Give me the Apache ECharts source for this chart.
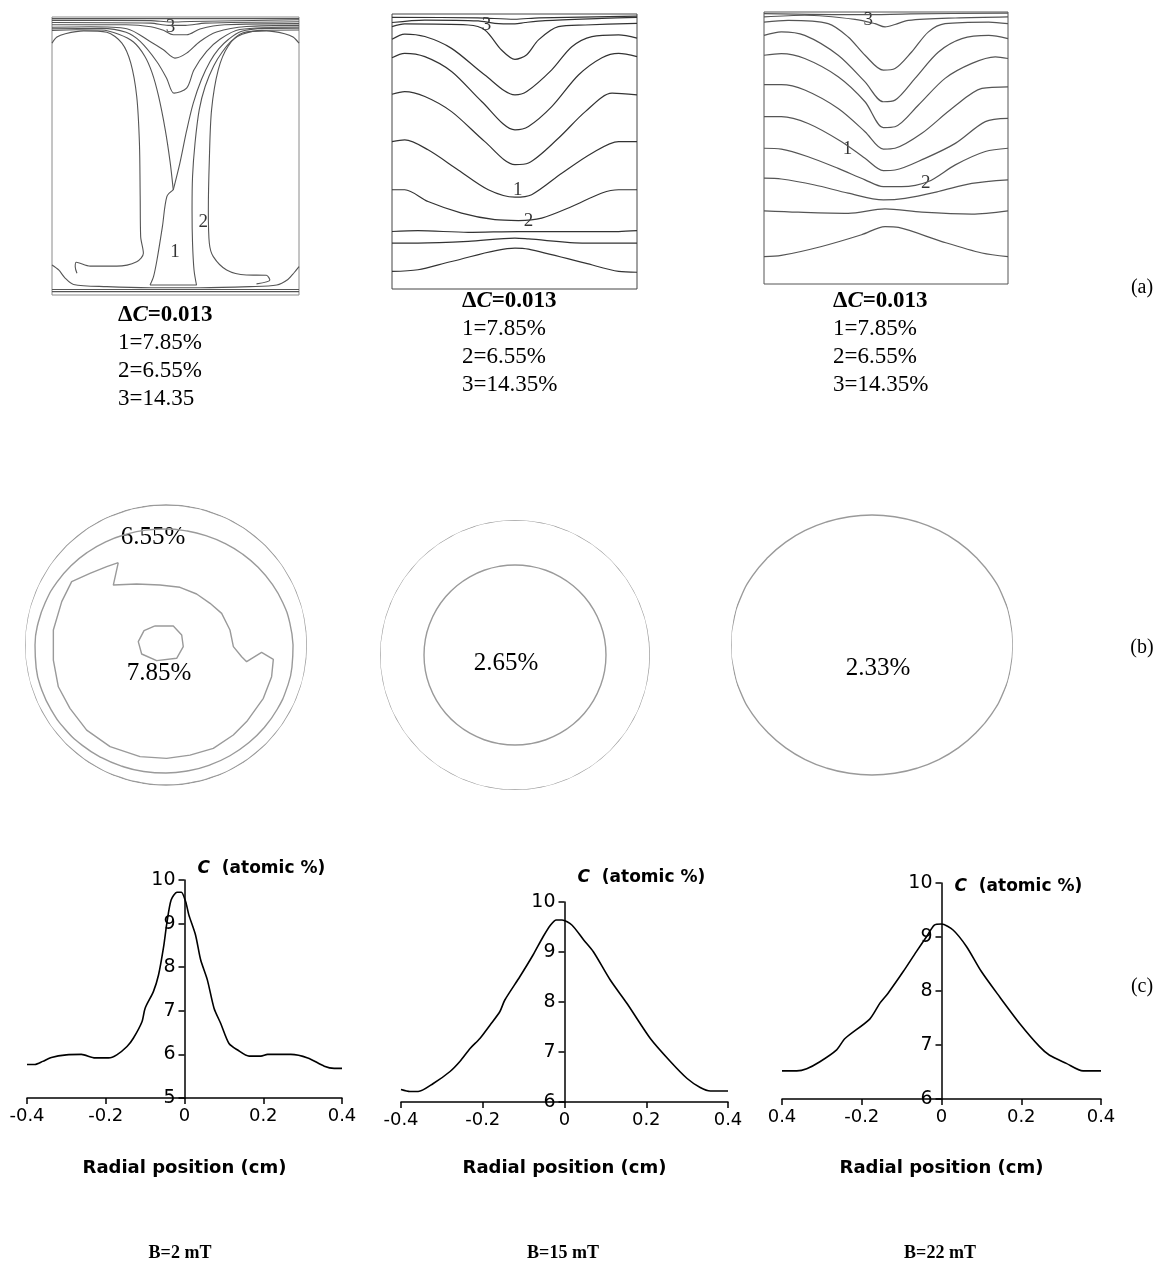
<!DOCTYPE html>
<html><head><meta charset="utf-8">
<script src="https://cdn.jsdelivr.net/npm/echarts@6/dist/echarts.min.js"></script>
<style>html,body{margin:0;padding:0;background:#fff}#c{width:1161px;height:1278px}</style>
</head><body><div id="c"></div>
<script>
// ---------- Row (a): axial-section contour lines (x = % of width, y = % of height from bottom)
const a1Lines = [
  [[0,99.4],[100,99.4]],
  [[0,98.8],[40,98.7],[48,98.2],[56,98.4],[100,99.0]],
  [[0,98.0],[40,97.8],[47,97.0],[54,97.0],[62,97.8],[100,98.3]],
  [[0,97.2],[30,97.2],[40,96.5],[45.1,95.2],[49.1,93.6],[54.5,93.6],[59.9,95.7],[70,97.2],[100,97.6]],
  [[0,96.3],[15.5,96.5],[30.3,95.8],[39.7,91.2],[45.1,88.2],[49.8,85.2],[54.5,87.0],[59.9,91.2],[66.6,94.6],[78.7,96.6],[100,97.0]],
  [[0,95.8],[20,95.9],[30,94.5],[35.7,91.2],[42.4,84.0],[46.4,78.0],[49.4,72.6],[54.5,74.4],[57.5,81.0],[62.6,87.6],[68,92.0],[76,95.5],[100,96.4]],
  [[49.1,37.8],[47.8,48.0],[45.8,59.7],[43.1,71.7],[40.5,80],[37.5,86],[33,91],[27,93.8],[20,95.3],[10,95.4],[0,95.2]],
  [[49.1,37.8],[51.8,47.5],[54.5,59.1],[57.2,69.0],[60.5,77.5],[64,84],[67.5,88.5],[71.5,92],[76.5,94.8],[86,95.9],[100,96.0]],
  [[0,90.6],[2.0,92.8],[5.4,94.0],[12.8,95.0],[22.2,94.5],[28.3,90.6],[31.9,83.4],[34.3,71.4],[35.4,54.6],[35.7,35.5],[35.9,21.0],[37.0,15.0],[34.3,12.0],[26.2,10.4],[15.5,10.4],[9.8,11.8],[9.4,10.2],[10.1,7.8]],
  [[100,90.6],[97.6,92.8],[94.2,94.0],[86.8,95.0],[77.4,94.3],[71.3,89.5],[67.3,81.0],[64.6,66.6],[63.7,48.6],[63.3,30.6],[63.7,18.6],[65.3,13.8],[70.7,9.0],[78.7,7.2],[86.8,7.1],[88.2,5.4],[82.8,4.0]],
  [[39.7,3.6],[41.1,6.6],[42.5,12.6],[44.7,24.6],[46.5,35.4],[49.1,37.8]],
  [[39.7,3.6],[58.5,3.6],[57.5,9.0],[56.9,18.6],[56.7,30.6],[56.9,42.6],[57.9,54.6],[59.6,66.6],[62.0,75],[65.5,82.5],[69.0,87.5],[72.8,91.5],[77,93.8],[85,95.2],[100,95.3]],
  [[0,10.8],[2.7,9.0],[5.4,6.0],[8.7,3.8],[22.2,3.0],[39.7,2.6],[60,2.6],[80,3.0],[91,3.6],[95.5,5.6],[98,8],[100,10.2]],
  [[0,2.0],[100,2.0]],
  [[0,1.2],[100,1.2]]
];
const a1Labels = [[48.0,96.4,'3'],[49.8,15.6,'1'],[61.2,26.4,'2']];

const a2Lines = [
  [[0,98.8],[35,98.6],[50,98.1],[60,98.6],[100,99.2]],
  [[0,96.9],[13.4,97.8],[35.2,97.5],[42.0,96.6],[50.2,96.4],[54.3,96.9],[62.5,97.6],[85.7,98.4],[100,98.8]],
  [[0,95.4],[5.2,96.4],[31.1,96.0],[37.9,94.2],[44.7,86.9],[50.2,83.5],[55.0,85.2],[59.8,90.6],[67.9,95.4],[78.9,96.0],[100,96.6]],
  [[0,90.8],[5.2,92.7],[13.4,91.8],[24.3,87.5],[37.9,77.8],[50.2,70.6],[55.0,71.8],[65.2,79.7],[73.4,88.1],[81.6,91.8],[92.5,92.4],[100,91.2]],
  [[0,84.1],[5.2,85.7],[13.4,84.5],[24.3,79.1],[36.6,68.2],[50.2,57.9],[55.7,59.1],[65.2,66.3],[76.1,77.8],[85.7,84.1],[92.5,85.7],[100,84.5]],
  [[0,70.8],[5.2,71.8],[13.4,70.0],[24.3,64.5],[37.9,53.6],[50.2,45.2],[55.7,45.8],[67.9,54.8],[78.9,64.5],[89.8,71.2],[100,70.6]],
  [[0,53.6],[5.2,54.2],[14.7,50.6],[27.0,43.3],[39.3,36.1],[50.2,33.4],[57.0,34.3],[69.3,42.1],[81.6,49.4],[92.5,53.6],[100,53.6]],
  [[0,36.1],[5.2,36.1],[14.7,31.8],[28.4,27.6],[42.0,25.2],[51.6,24.9],[61.1,25.8],[73.4,30.0],[85.7,34.9],[92.5,36.1],[100,36.1]],
  [[0,20.9],[10.6,21.2],[31.1,20.6],[51.6,20.9],[72.0,20.9],[92.5,20.9],[100,21.2]],
  [[0,16.7],[10.6,16.7],[31.1,17.3],[50.2,18.5],[55.7,18.2],[78.9,16.7],[100,16.7]],
  [[0,6.4],[10.6,7.0],[24.3,10.0],[50.2,14.9],[55.7,14.5],[78.9,9.4],[92.5,6.4],[100,6.1]]
];
const a2Labels = [[38.6,96.0,'3'],[51.3,36.1,'1'],[55.7,24.6,'2']];

const a3Lines = [
  [[0,99.4],[40,99.0],[60,99.3],[100,99.6]],
  [[0,98.2],[16.7,98.8],[37.3,97.3],[45.5,95.7],[49.6,94.5],[53.7,95.4],[59.2,96.9],[78.4,97.8],[100,98.2]],
  [[0,96.3],[9.9,96.9],[26.3,95.7],[34.5,90.8],[41.4,84.1],[48.9,78.6],[53.7,79.2],[60.5,85.3],[67.4,92.7],[74.2,95.7],[92.1,96.3],[100,95.7]],
  [[0,91.4],[7.1,92.7],[16.7,91.4],[30.4,84.1],[41.4,74.3],[48.9,67.0],[53.7,67.6],[61.9,75.6],[71.5,85.3],[81.1,90.2],[92.1,91.4],[100,90.2]],
  [[0,84.1],[7.1,84.7],[16.7,82.9],[30.4,76.2],[41.4,67.0],[48.9,57.5],[53.7,57.8],[63.3,65.8],[74.2,75.6],[85.2,81.1],[94.8,83.5],[100,82.9]],
  [[0,73.3],[7.1,73.3],[16.7,71.3],[30.4,64.5],[41.4,56.0],[48.9,49.6],[53.7,49.9],[64.7,55.4],[77.0,64.5],[89.3,71.9],[100,72.5]],
  [[0,61.5],[7.1,61.5],[18.1,59.0],[31.8,52.3],[41.4,46.2],[48.9,41.7],[53.7,41.9],[66.0,46.2],[78.4,51.7],[90.7,59.7],[100,60.9]],
  [[0,49.9],[7.1,49.6],[18.1,46.8],[30.4,42.5],[41.4,38.3],[48.9,35.8],[56.4,35.8],[67.4,37.7],[78.4,43.8],[90.7,48.7],[100,49.9]],
  [[0,38.9],[7.1,38.6],[20.8,36.4],[34.5,33.4],[48.9,30.9],[57.8,31.5],[71.5,34.0],[85.2,37.0],[100,38.3]],
  [[0,26.9],[14.0,26.4],[34.5,26.0],[49.6,27.6],[64.7,26.4],[85.2,25.7],[100,26.9]],
  [[0,10.1],[7.1,10.5],[23.6,13.8],[40.0,18.1],[49.6,21.1],[55.1,20.8],[72.9,15.6],[89.3,11.4],[100,10.1]]
];
const a3Labels = [[42.7,96.9,'3'],[34.2,49.6,'1'],[66.3,37.0,'2']];

// ---------- Row (b): radial-section contours as [r/R, angle deg]
const bAngles = [0,10,20,30,40,50,60,70,80,90,100,110,120,130,140,150,160,170,180,190,200,210,220,230,240,250,260,270,280,290,300,310,320,330,340,350,360];
const b1Outer = [1,1,0.999,0.998,0.997,0.996,0.995,0.994,0.993,0.993,0.993,0.994,0.995,0.996,0.997,0.998,0.999,1,1,1,0.999,0.998,0.997,0.996,0.995,0.994,0.993,0.993,0.993,0.994,0.995,0.996,0.997,0.998,0.999,1,1];
const b1Mid = [0.901,0.892,0.881,0.868,0.855,0.843,0.833,0.826,0.822,0.823,0.827,0.835,0.847,0.861,0.877,0.893,0.907,0.920,0.929,0.935,0.937,0.935,0.932,0.927,0.921,0.915,0.911,0.908,0.906,0.906,0.907,0.908,0.910,0.911,0.910,0.907,0.901];
const b1Jagged = [[0.675,120.1],[0.566,131.3],[0.480,115.7],[0.428,95.7],[0.421,76.4],[0.422,59.0],[0.430,43.4],[0.454,29.6],[0.466,13.2],[0.478,358.6],[0.543,351.2],[0.584,348.3],[0.680,355.6],[0.768,352.4],[0.782,343.3],[0.787,331.3],[0.789,316.5],[0.797,306.8],[0.806,294.6],[0.799,282.3],[0.804,270.3],[0.813,256.9],[0.823,241.2],[0.825,227.0],[0.816,213.4],[0.819,201.2],[0.806,187.6],[0.806,172.4],[0.801,157.4],[0.806,146.1],[0.741,136.7],[0.697,127.1],[0.675,120.1]];
const b1Core = [[0.156,120.1],[0.144,68.9],[0.132,32.5],[0.123,354.5],[0.121,308.7],[0.129,239.2],[0.184,200.3],[0.198,173.1],[0.186,146.9],[0.156,120.1]];
const b2Outer = [1,1,1,1,1,1,1,1,1,1,1,1,1,1,1,1,1,1,1,1,1,1,1,1,1,1,1,1,1,1,1,1,1,1,1,1,1];
const b2Inner = [0.674,0.674,0.673,0.672,0.671,0.670,0.669,0.668,0.667,0.667,0.667,0.668,0.669,0.670,0.671,0.672,0.673,0.674,0.674,0.674,0.673,0.672,0.671,0.670,0.669,0.668,0.667,0.667,0.667,0.668,0.669,0.670,0.671,0.672,0.673,0.674,0.674];
const b3Outer = [1,0.997,0.990,0.979,0.965,0.952,0.940,0.930,0.924,0.922,0.924,0.930,0.940,0.952,0.965,0.979,0.990,0.997,1,0.997,0.990,0.979,0.965,0.952,0.940,0.930,0.924,0.922,0.924,0.930,0.940,0.952,0.965,0.979,0.990,0.997,1];

// ---------- Row (c): radial concentration profiles
const c1X = [-0.4,-0.38,-0.36,-0.338,-0.30,-0.262,-0.227,-0.193,-0.172,-0.146,-0.13,-0.108,-0.10,-0.079,-0.066,-0.053,-0.045,-0.034,-0.019,-0.008,0.003,0.011,0.028,0.041,0.058,0.075,0.092,0.113,0.135,0.164,0.194,0.211,0.27,0.313,0.355,0.38,0.40];
const c1Y = [5.77,5.77,5.84,5.93,5.99,6.0,5.92,5.92,5.99,6.18,6.37,6.75,7.06,7.44,7.82,8.47,9.0,9.54,9.72,9.72,9.5,9.2,8.74,8.17,7.71,7.06,6.71,6.25,6.10,5.96,5.96,6.0,6.0,5.92,5.73,5.68,5.68];
const c2X = [-0.40,-0.378,-0.358,-0.321,-0.28,-0.256,-0.231,-0.207,-0.182,-0.158,-0.146,-0.109,-0.077,-0.052,-0.034,-0.02,-0.006,0.018,0.047,0.071,0.112,0.153,0.21,0.259,0.30,0.332,0.357,0.40];
const c2Y = [6.25,6.21,6.21,6.37,6.61,6.81,7.07,7.27,7.54,7.81,8.04,8.51,8.94,9.31,9.54,9.64,9.64,9.54,9.24,9.0,8.44,7.97,7.27,6.81,6.47,6.29,6.22,6.22];
const c3X = [-0.40,-0.363,-0.338,-0.305,-0.263,-0.242,-0.18,-0.154,-0.134,-0.096,-0.063,-0.038,-0.018,0.0,0.029,0.063,0.10,0.146,0.196,0.246,0.271,0.313,0.355,0.40];
const c3Y = [6.52,6.52,6.56,6.69,6.91,7.12,7.48,7.78,7.96,8.36,8.73,9.0,9.22,9.24,9.13,8.82,8.36,7.89,7.4,6.97,6.81,6.66,6.52,6.52];
const c1XTicks = ['-0.4','-0.2','0','0.2','0.4'];
const c2XTicks = ['-0.4','-0.2','0','0.2','0.4'];
const c3XTicks = ['0.4','-0.2','0','0.2','0.4'];
const cYMin = [5, 6, 6];

// ---------- texts
const deltaC = '0.013';
const legendA = [['1=7.85%','2=6.55%','3=14.35'],['1=7.85%','2=6.55%','3=14.35%'],['1=7.85%','2=6.55%','3=14.35%']];
const bLabels = ['6.55%','7.85%','2.65%','2.33%'];
const fieldLabels = ['B=2 mT','B=15 mT','B=22 mT'];

const SERIF = '"Liberation Serif", "Times New Roman", serif';
const SANS = '"DejaVu Sans", sans-serif';

const chart = echarts.init(document.getElementById('c'));

const cGrids = [
  {left:27,top:880,width:315,height:218},
  {left:401,top:902,width:327,height:200},
  {left:782,top:883,width:319,height:216}
];
const grids = [
  {left:52,top:17,width:247,height:278,show:true,borderColor:'#8a8a8a',borderWidth:1},
  {left:392,top:14,width:245,height:275,show:true,borderColor:'#444',borderWidth:1},
  {left:764,top:12,width:244,height:272,show:true,borderColor:'#555',borderWidth:1}
].concat(cGrids);
const xAxes = [], yAxes = [];
for (let i=0;i<3;i++){
  xAxes.push({gridIndex:i,type:'value',min:0,max:100,show:false});
  yAxes.push({gridIndex:i,type:'value',min:0,max:100,show:false});
}
const cTicks = [c1XTicks,c2XTicks,c3XTicks];
const nameGapsY = [11,24,-4];
const nameGapsX = [61,57,60];
for (let k=0;k<3;k++){
  const ticks = cTicks[k];
  xAxes.push({gridIndex:3+k,type:'value',min:-0.4,max:0.4,interval:0.2,
    axisLine:{onZero:false,lineStyle:{color:'#000',width:1.5}},
    axisTick:{show:true,length:6,lineStyle:{color:'#000',width:1.5}},
    axisLabel:{formatter:(v,i)=>ticks[i],fontFamily:SANS,fontSize:18,color:'#000',margin:9},
    splitLine:{show:false},
    name:'Radial position (cm)',nameLocation:'middle',nameGap:nameGapsX[k],
    nameTextStyle:{fontFamily:SANS,fontWeight:'bold',fontSize:18,color:'#000'}
  });
  // y axis drawn at x = 0 of the radial axis
  yAxes.push({gridIndex:3+k,type:'value',min:cYMin[k],max:10,interval:1,position:'left',
    offset:-cGrids[k].width/2,
    axisLine:{onZero:false,lineStyle:{color:'#000',width:1.5}},
    axisTick:{show:true,length:6,lineStyle:{color:'#000',width:1.5}},
    axisLabel:{fontFamily:SANS,fontSize:19,color:'#000',margin:9},
    splitLine:{show:false},
    name:'{c|C}  (atomic %)',nameLocation:'end',nameGap:nameGapsY[k],
    nameTextStyle:{align:'left',verticalAlign:'middle',padding:[0,0,0,13],fontFamily:SANS,fontWeight:'bold',fontSize:17,color:'#000',
      rich:{c:{fontFamily:SANS,fontWeight:'bold',fontStyle:'italic',fontSize:17,color:'#000'}}}
  });
}

const series = [];
function addLines(lines, idx, color, width){
  lines.forEach(d=>series.push({type:'line',xAxisIndex:idx,yAxisIndex:idx,data:d,showSymbol:false,symbol:'none',
    smooth:0.3,lineStyle:{color,width},silent:true}));
}
function addLabels(labels, idx){
  series.push({type:'scatter',xAxisIndex:idx,yAxisIndex:idx,data:labels,symbolSize:0,silent:true,
    label:{show:true,position:'inside',formatter:p=>p.data[2],fontFamily:SERIF,fontSize:19,color:'#000'}});
}
addLines(a1Lines,0,'#555',1.1); addLabels(a1Labels,0);
addLines(a2Lines,1,'#333',1.2); addLabels(a2Labels,1);
addLines(a3Lines,2,'#555',1.2); addLabels(a3Labels,2);

function polarLine(pi, data, smooth){
  series.push({type:'line',coordinateSystem:'polar',polarIndex:pi,data,showSymbol:false,symbol:'none',
    smooth:smooth,lineStyle:{color:'#9a9a9a',width:1.4},silent:true});
}
const pair = arr => arr.map((r,i)=>[r,bAngles[i]]);
polarLine(0,pair(b1Outer),true);
polarLine(0,pair(b1Mid),true);
polarLine(0,b1Jagged,false);
polarLine(0,b1Core,false);
polarLine(1,pair(b2Outer),true);
polarLine(1,pair(b2Inner),true);
polarLine(2,pair(b3Outer),true);

[[c1X,c1Y],[c2X,c2Y],[c3X,c3Y]].forEach((xy,k)=>{
  series.push({type:'line',xAxisIndex:3+k,yAxisIndex:3+k,data:xy[0].map((x,i)=>[x,xy[1][i]]),
    showSymbol:false,symbol:'none',smooth:0.25,lineStyle:{color:'#000',width:1.6},silent:true});
});

const polars = [{center:[166,645],radius:141},{center:[515,655],radius:135},{center:[872,645],radius:141}];
const angleAxes = polars.map((p,i)=>({polarIndex:i,type:'value',min:0,max:360,startAngle:0,clockwise:false,show:false}));
const radiusAxes = polars.map((p,i)=>({polarIndex:i,type:'value',min:0,max:1,show:false}));

const graphic = [];
function txt(x,y,text,font,align,rich){
  const st = {text,x:0,y:0,font,fill:'#000',textAlign:align||'left',textVerticalAlign:'middle'};
  if (rich) st.rich = rich;
  graphic.push({type:'text',x,y,silent:true,style:st});
}
const blockX = [118,462,833];
const blockY = [[315,343,371,399],[301,329,357,385],[301,329,357,385]];
for (let k=0;k<3;k++){
  txt(blockX[k],blockY[k][0],'{b|Δ}{i|C}{b|='+deltaC+'}','bold 23px '+SERIF,'left',
    {b:{font:'bold 23px '+SERIF,fill:'#000'},i:{font:'italic bold 23px '+SERIF,fill:'#000'}});
  for (let j=0;j<3;j++) txt(blockX[k],blockY[k][j+1],legendA[k][j],'23px '+SERIF,'left');
}
txt(153,537,bLabels[0],'25px '+SERIF,'center');
txt(159,673,bLabels[1],'25px '+SERIF,'center');
txt(506,663,bLabels[2],'25px '+SERIF,'center');
txt(878,668,bLabels[3],'25px '+SERIF,'center');
txt(1142,288,'(a)','20px '+SERIF,'center');
txt(1142,648,'(b)','20px '+SERIF,'center');
txt(1142,987,'(c)','20px '+SERIF,'center');
txt(180,1253,fieldLabels[0],'bold 18px '+SERIF,'center');
txt(563,1253,fieldLabels[1],'bold 18px '+SERIF,'center');
txt(940,1253,fieldLabels[2],'bold 18px '+SERIF,'center');

chart.setOption({
  backgroundColor:'#fff',
  animation:false,
  grid:grids, xAxis:xAxes, yAxis:yAxes,
  polar:polars, angleAxis:angleAxes, radiusAxis:radiusAxes,
  series, graphic
});
</script></body></html>
